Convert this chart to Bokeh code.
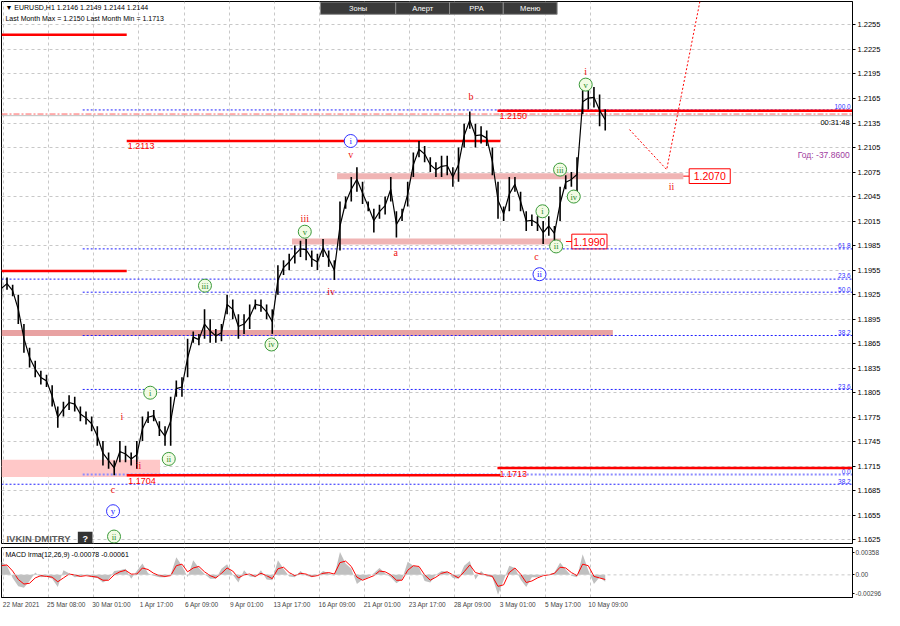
import numpy as np
from bokeh.plotting import figure
from bokeh.layouts import column
from bokeh.models import (FixedTicker, Grid, Range1d, Label, Span,
                          NumeralTickFormatter, CustomJSTickFormatter)
from bokeh.core.properties import value
from bokeh.embed import file_html
from bokeh.resources import INLINE

SANS_NAME = "Liberation Sans"
SANS = value(SANS_NAME)
SERIF = value("Liberation Serif")

# ---------------- data ----------------
# EURUSD H1, one sample every 8 hourly bars: high / low of the sample
price_high = [
    1.1946, 1.1946, 1.1937, 1.1925, 1.1889, 1.1860, 1.1844, 1.1832, 1.1827, 1.1814,
    1.1788, 1.1794, 1.1802, 1.1800, 1.1788, 1.1782, 1.1776, 1.1764, 1.1746, 1.1732,
    1.1722, 1.1746, 1.1740, 1.1732, 1.1746, 1.1776, 1.1782, 1.1784, 1.1770, 1.1764,
    1.1800, 1.1820, 1.1824, 1.1871, 1.1880, 1.1877, 1.1907, 1.1895, 1.1883, 1.1889,
    1.1925, 1.1919, 1.1901, 1.1901, 1.1913, 1.1919, 1.1919, 1.1913, 1.1907, 1.1961,
    1.1967, 1.1975, 1.1985, 1.1991, 1.1993, 1.1979, 1.1975, 1.1993, 1.1979, 1.1967,
    1.2039, 1.2045, 1.2069, 1.2081, 1.2063, 1.2039, 1.2030, 1.2035, 1.2045, 1.2069,
    1.2027, 1.2030, 1.2063, 1.2099, 1.2113, 1.2107, 1.2093, 1.2087, 1.2095, 1.2095,
    1.2081, 1.2105, 1.2134, 1.2149, 1.2134, 1.2131, 1.2126, 1.2105, 1.2063, 1.2033,
    1.2069, 1.2069, 1.2051, 1.2027, 1.2023, 1.2021, 1.2015, 1.2021, 1.2009, 1.2057,
    1.2071, 1.2075, 1.2093, 1.2176, 1.2179, 1.2179, 1.2170, 1.2152]
price_low = [
    1.1919, 1.1931, 1.1923, 1.1889, 1.1854, 1.1836, 1.1824, 1.1815, 1.1812, 1.1788,
    1.1762, 1.1776, 1.1784, 1.1782, 1.1770, 1.1766, 1.1758, 1.1740, 1.1716, 1.1712,
    1.1704, 1.1720, 1.1720, 1.1716, 1.1712, 1.1746, 1.1768, 1.1770, 1.1752, 1.1740,
    1.1740, 1.1800, 1.1800, 1.1824, 1.1866, 1.1863, 1.1871, 1.1866, 1.1866, 1.1868,
    1.1901, 1.1895, 1.1871, 1.1877, 1.1883, 1.1907, 1.1904, 1.1895, 1.1877, 1.1925,
    1.1949, 1.1955, 1.1963, 1.1971, 1.1967, 1.1959, 1.1955, 1.1971, 1.1959, 1.1943,
    1.1979, 1.2030, 1.2039, 1.2051, 1.2036, 1.2027, 1.2001, 1.2018, 1.2023, 1.2039,
    1.1995, 1.2015, 1.2033, 1.2069, 1.2093, 1.2087, 1.2075, 1.2069, 1.2069, 1.2071,
    1.2057, 1.2063, 1.2105, 1.2128, 1.2105, 1.2110, 1.2107, 1.2071, 1.2018, 1.2015,
    1.2027, 1.2051, 1.2027, 1.2003, 1.2009, 1.2003, 1.1987, 1.1997, 1.1991, 1.2015,
    1.2054, 1.2057, 1.2051, 1.2146, 1.2152, 1.2154, 1.2131, 1.2126]

macd_hist = [
    0.0017, 0.0012, -0.0004, -0.0015, -0.0017, -0.0008, 0.0003, -0.0003, -0.0002, -0.0005,
    -0.0016, 0.0006, 0.0002, -0.0003, -0.0002, 0.0000, -0.0003, -0.0004, -0.0010, -0.0006,
    0.0005, 0.0006, 0.0008, -0.0005, 0.0005, 0.0015, 0.0002, -0.0001, -0.0003, -0.0003,
    0.0000, 0.0023, 0.0012, -0.0003, 0.0019, 0.0009, 0.0001, -0.0005, -0.0005, 0.0008,
    0.0014, 0.0000, -0.0010, 0.0006, -0.0002, -0.0003, 0.0006, -0.0006, -0.0007, 0.0019,
    0.0008, -0.0002, -0.0003, 0.0005, -0.0001, -0.0003, -0.0001, 0.0005, 0.0002, -0.0001,
    0.0030, 0.0015, 0.0008, -0.0012, -0.0006, -0.0003, 0.0002, 0.0009, 0.0002, -0.0003,
    -0.0011, -0.0006, 0.0017, 0.0012, 0.0010, -0.0008, -0.0010, 0.0000, 0.0005, 0.0004,
    -0.0004, -0.0005, 0.0012, 0.0018, -0.0006, 0.0005, -0.0002, -0.0003, -0.0026, -0.0007,
    0.0012, 0.0009, -0.0006, -0.0016, -0.0003, -0.0003, 0.0000, 0.0000, 0.0003, 0.0016,
    0.0007, -0.0001, -0.0003, 0.0027, 0.0006, -0.0012, -0.0003, -0.0009]
macd_signal = [
    0.0012, 0.0013, 0.0005, -0.0006, -0.0012, -0.0011, -0.0004, -0.0001, -0.0002, -0.0003,
    -0.0009, -0.0004, 0.0001, 0.0000, -0.0002, -0.0001, -0.0002, -0.0003, -0.0007, -0.0007,
    0.0000, 0.0004, 0.0006, 0.0001, 0.0001, 0.0009, 0.0007, 0.0002, -0.0001, -0.0002,
    -0.0001, 0.0012, 0.0014, 0.0004, 0.0009, 0.0011, 0.0004, -0.0001, -0.0004, 0.0002,
    0.0009, 0.0005, -0.0004, 0.0000, 0.0001, -0.0002, 0.0002, -0.0001, -0.0005, 0.0008,
    0.0010, 0.0003, -0.0001, 0.0002, 0.0001, -0.0002, -0.0001, 0.0002, 0.0003, 0.0001,
    0.0016, 0.0018, 0.0011, -0.0003, -0.0007, -0.0004, -0.0001, 0.0005, 0.0004, 0.0000,
    -0.0007, -0.0007, 0.0006, 0.0012, 0.0011, 0.0000, -0.0007, -0.0003, 0.0002, 0.0004,
    0.0000, -0.0004, 0.0004, 0.0013, 0.0003, 0.0001, 0.0000, -0.0002, -0.0015, -0.0013,
    0.0003, 0.0009, 0.0001, -0.0010, -0.0008, -0.0004, -0.0001, 0.0000, 0.0002, 0.0010,
    0.0009, 0.0003, -0.0001, 0.0014, 0.0012, -0.0002, -0.0004, -0.0006]

time_tick_bars = [0, 64, 128, 192, 256, 320, 384, 448, 512, 576, 640, 704, 768, 832]
time_tick_labels = ["22 Mar 2021", "25 Mar 08:00", "30 Mar 01:00", "1 Apr 17:00",
                    "6 Apr 09:00", "9 Apr 01:00", "13 Apr 17:00", "16 Apr 09:00",
                    "21 Apr 01:00", "23 Apr 17:00", "28 Apr 09:00", "3 May 01:00",
                    "5 May 17:00", "10 May 09:00"]
price_ticks = [1.1625, 1.1655, 1.1685, 1.1715, 1.1745, 1.1775, 1.1805, 1.1835, 1.1865,
               1.1895, 1.1925, 1.1955, 1.1985, 1.2015, 1.2045, 1.2075, 1.2105, 1.2135,
               1.2165, 1.2195, 1.2225, 1.2255]
last_price = 1.2144

# red support / resistance levels (bar from, bar to, price)
red_x0 = [-2.8, -2.8, 174.7, 700.2, 174.7, 700.2]
red_x1 = [174.7, 174.7, 704.4, 1203.5, 704.4, 1203.5]
red_price = [1.2243, 1.1954, 1.2113, 1.2150, 1.1704, 1.1713]
red_text = ["1.2113", "1.2150", "1.1704", "1.1713"]
red_text_x = [176.0, 703.0, 177.0, 703.0]
red_text_y = [1.2107, 1.2143, 1.1697, 1.1705]

# pink zones
zone_x0 = [472.8, 409.0, -2.8]
zone_x1 = [963.7, 790.3, 863.8]
zone_price = [1.2070, 1.1990, 1.1878]
zone_color = ["#f0b4b4", "#f0b4b4", "#e8a2a2"]
zone_box_text = ["1.2070", "1.1990"]
zone_box_x0 = [972.0, 805.6]
zone_box_x1 = [1030.2, 855.5]
zone_link_x0 = [963.7, 797.3]

# fibonacci levels
fib_x0 = [112.3, 112.3, -2.8, 112.3, 112.3, 112.3, 112.3, -2.8]
fib_price = [1.2151, 1.1981, 1.1944, 1.1928, 1.1875, 1.1809, 1.1705, 1.1693]
fib_text = ["100.0", "61.8", "23.6", "50.0", "38.2", "23.6", "0.0", "38.2"]

# wave marks
red_wave_x = [167.8, 191.3, 155.3, 427.1, 464.5, 492.2, 556.0, 662.8, 755.7, 825.3, 947.0]
red_wave_y = [1.1776, 1.1716, 1.1686, 1.2018, 1.1929, 1.2096, 1.1977, 1.2168, 1.1972, 1.2198, 1.2057]
red_wave_t = ["i", "ii", "c", "iii", "iv", "v", "a", "b", "c", "i", "ii"]
green_wave_x = [208.0, 234.3, 285.6, 379.9, 427.1, 764.0, 783.4, 789.0, 808.4, 825.3, 156.7]
green_wave_y = [1.1805, 1.1724, 1.1936, 1.1864, 1.2002, 1.2027, 1.1984, 1.2078, 1.2045, 1.2182, 1.1629]
green_wave_t = ["i", "ii", "iii", "iv", "v", "i", "ii", "iii", "iv", "v", "ii"]
blue_wave_x = [492.2, 759.8, 155.3]
blue_wave_y = [1.2113, 1.1950, 1.1660]
blue_wave_t = ["i", "ii", "y"]

forecast_x = [887.4, 940.1, 990.0]
forecast_y = [1.2127, 1.2078, 1.2296]

menu_x0 = [449.3, 556.0, 632.3, 708.5]
menu_x1 = [556.0, 632.3, 708.5, 784.8]
menu_text = ["Зоны", "Алерт", "PPA", "Меню"]

# ---------------- figures ----------------
W = 884
RB = 31
GRID = "#c8c8c8"

p = figure(width=W, height=545, x_range=Range1d(-2.8, 1203.5), y_range=Range1d(1.16205, 1.22837),
           output_backend="svg", toolbar_location=None, x_axis_location=None,
           y_axis_location="right", min_border_left=1, min_border_right=RB,
           min_border_top=1, min_border_bottom=2)
p.grid.visible = False
p.outline_line_color = "black"
p.background_fill_color = "white"
p.border_fill_color = "white"
p.add_layout(Grid(dimension=0, ticker=FixedTicker(ticks=time_tick_bars),
                  grid_line_color=GRID, grid_line_dash="3 3"))
p.add_layout(Grid(dimension=1, ticker=FixedTicker(ticks=price_ticks),
                  grid_line_color=GRID, grid_line_dash="3 3"))
ya = p.yaxis[0]
ya.ticker = FixedTicker(ticks=price_ticks)
ya.formatter = NumeralTickFormatter(format="0.0000")
ya.major_label_text_font = SANS_NAME
ya.major_label_text_font_size = "7.5px"
ya.major_label_text_color = "black"
ya.major_tick_out = 3
ya.major_tick_in = 0
ya.minor_tick_out = 0
ya.minor_tick_in = 0
ya.major_label_standoff = 2
ya.axis_line_color = "black"

# light pink zone bottom-left
p.quad(left=[-2.8], right=[221.9], bottom=[1.1702], top=[1.1723], fill_color="#ffc8c8", line_color=None)
# pink zones
p.segment(x0=zone_x0, x1=zone_x1, y0=zone_price, y1=zone_price, line_color=zone_color, line_width=6)
p.segment(x0=zone_link_x0, x1=zone_box_x0, y0=zone_price[:2], y1=zone_price[:2], line_color="red", line_width=1)
p.quad(left=zone_box_x0, right=zone_box_x1, bottom=[v - 0.0009 for v in zone_price[:2]],
       top=[v + 0.0009 for v in zone_price[:2]], fill_color="white", line_color="red", line_width=1)
p.text(x=[(a + b) / 2 for a, b in zip(zone_box_x0, zone_box_x1)], y=zone_price[:2], text=zone_box_text,
       text_align="center", text_baseline="middle", text_color="red", text_font=SANS, text_font_size="10.5px")

# bid / alert lines
p.segment(x0=[-2.8], x1=[1203.5], y0=[last_price], y1=[last_price], line_color="#c0c0c0", line_width=1)
p.segment(x0=[-2.8], x1=[1203.5], y0=[1.2146], y1=[1.2146], line_color="#ff6060", line_width=1,
          line_dash="6 2 2 2")

# fibonacci
fib_colors = ["#2020ff"] * 6 + ["#8c8cff", "#2020ff"]
fib_widths = [1, 1, 1, 1, 1, 1, 2, 1]
p.segment(x0=fib_x0, x1=[1203.5] * len(fib_x0), y0=fib_price, y1=fib_price,
          line_color=fib_colors, line_width=fib_widths, line_dash="2 2")
p.text(x=[1201.0] * len(fib_text), y=[v + 0.00008 for v in fib_price], text=fib_text,
       text_align="right", text_baseline="bottom", text_color="#3030ff", text_font=SANS, text_font_size="6.5px")

# red levels
p.segment(x0=red_x0, x1=red_x1, y0=red_price, y1=red_price, line_color="#ff0000", line_width=2.5)
p.text(x=red_text_x, y=red_text_y, text=red_text, text_align="left", text_baseline="middle",
       text_color="red", text_font=SANS, text_font_size="9px")

# forecast
p.line(forecast_x, forecast_y, line_color="red", line_width=1, line_dash="2 2")

# price series
bars = np.arange(len(price_high)) * 8 - 3
hi = np.array(price_high)
lo = np.array(price_low)
p.segment(x0=bars, x1=bars, y0=lo, y1=hi, line_color="black", line_width=1.6)
p.line(bars, (hi + lo) / 2, line_color="black", line_width=1.2)

# wave labels
p.text(x=red_wave_x, y=red_wave_y, text=red_wave_t, text_align="center", text_baseline="middle",
       text_color="#ee1111", text_font=SERIF, text_font_size="10px")
p.scatter(x=green_wave_x, y=green_wave_y, marker="circle", size=13, fill_color="#f2fbe4",
          line_color="#3a9a3a", line_width=1)
p.text(x=green_wave_x, y=green_wave_y, text=green_wave_t, text_align="center", text_baseline="middle",
       text_color="#2a8a2a", text_font=SERIF, text_font_size="8.5px")
p.scatter(x=blue_wave_x, y=blue_wave_y, marker="circle", size=13, fill_color="white",
          line_color="#3030ff", line_width=1)
p.text(x=blue_wave_x, y=blue_wave_y, text=blue_wave_t, text_align="center", text_baseline="middle",
       text_color="#2020ff", text_font=SERIF, text_font_size="9px")

# menu
p.quad(left=menu_x0, right=menu_x1, bottom=[1.2268] * 4, top=[1.2283] * 4,
       fill_color="#3a3a3a", line_color="#8a8a8a", line_width=1)
p.text(x=[(a + b) / 2 for a, b in zip(menu_x0, menu_x1)], y=[1.22755] * 4, text=menu_text,
       text_align="center", text_baseline="middle", text_color="white", text_font=SANS, text_font_size="7.5px")

# header texts
p.add_layout(Label(x=2.8, y=1.22765, text="▼ EURUSD,H1  1.2146 1.2149 1.2144 1.2144", text_font=SANS_NAME,
                   text_font_size="7px", text_baseline="middle", text_color="black"))
p.add_layout(Label(x=2.8, y=1.22634, text="Last Month Max = 1.2150  Last Month Min = 1.1713", text_font=SANS_NAME,
                   text_font_size="7px", text_baseline="middle", text_color="black"))
p.add_layout(Label(x=1199.4, y=1.21355, text="00:31:48", text_font=SANS_NAME, text_font_size="7.5px",
                   text_baseline="middle", text_align="right", text_color="black"))
p.add_layout(Label(x=1199.4, y=1.20961, text="Год: -37.8600", text_font=SANS_NAME, text_font_size="8.5px",
                   text_baseline="middle", text_align="right", text_color="#a03ca0"))
p.add_layout(Label(x=4.2, y=1.16265, text="IVKIN DMITRY", text_font=SANS_NAME, text_font_size="9.5px",
                   text_font_style="bold", text_baseline="middle", text_color="#5a5a5a"))
p.quad(left=[105.4], right=[126.2], bottom=[1.16181], top=[1.16348], fill_color="#333333", line_color=None)
p.add_layout(Label(x=115.8, y=1.16265, text="?", text_font=SANS_NAME, text_font_size="9px", text_font_style="bold",
                   text_baseline="middle", text_align="center", text_color="white"))

# ---------------- MACD panel ----------------
m = figure(width=W, height=65, x_range=p.x_range, y_range=Range1d(-0.00296, 0.00358),
           output_backend="svg", toolbar_location=None, y_axis_location="right",
           min_border_left=1, min_border_right=RB, min_border_top=2, min_border_bottom=13)
m.grid.visible = False
m.outline_line_color = "black"
m.add_layout(Grid(dimension=0, ticker=FixedTicker(ticks=time_tick_bars),
                  grid_line_color=GRID, grid_line_dash="3 3"))
m.add_layout(Span(location=0, dimension="width", line_color=GRID, line_dash="3 3", line_width=1))
m.varea(x=bars, y1=0, y2=macd_hist, fill_color="#c0c0c0")
m.line(bars, macd_signal, line_color="red", line_width=1)
m.add_layout(Label(x=2.8, y=0.00272, text="MACD lrma(12,26,9) -0.00078 -0.00061", text_font=SANS_NAME,
                   text_font_size="7px", text_baseline="middle", text_color="black"))

lab_shift = 25
xa = m.xaxis[0]
xa.ticker = FixedTicker(ticks=[b + lab_shift for b in time_tick_bars])
xa.major_label_overrides = {b + lab_shift: t for b, t in zip(time_tick_bars, time_tick_labels)}
xa.major_label_text_font = SANS_NAME
xa.major_label_text_font_size = "6.5px"
xa.major_tick_out = 0
xa.major_tick_in = 0
xa.minor_tick_out = 0
xa.minor_tick_in = 0
xa.major_label_standoff = 3
xa.axis_line_color = "black"

my = m.yaxis[0]
my.ticker = FixedTicker(ticks=[-0.00247, 0.0, 0.00296])
my.formatter = CustomJSTickFormatter(code="""
    if (tick > 0.001) { return '0.00358'; }
    if (tick < -0.001) { return '-0.00296'; }
    return '0.00';
""")
my.major_label_text_font = SANS_NAME
my.major_label_text_font_size = "6.5px"
my.major_tick_out = 2
my.major_tick_in = 0
my.minor_tick_out = 0
my.minor_tick_in = 0
my.major_label_standoff = 1
my.axis_line_color = "black"

layout = column(p, m, spacing=0)
open("out.html", "w").write(file_html(layout, INLINE))
